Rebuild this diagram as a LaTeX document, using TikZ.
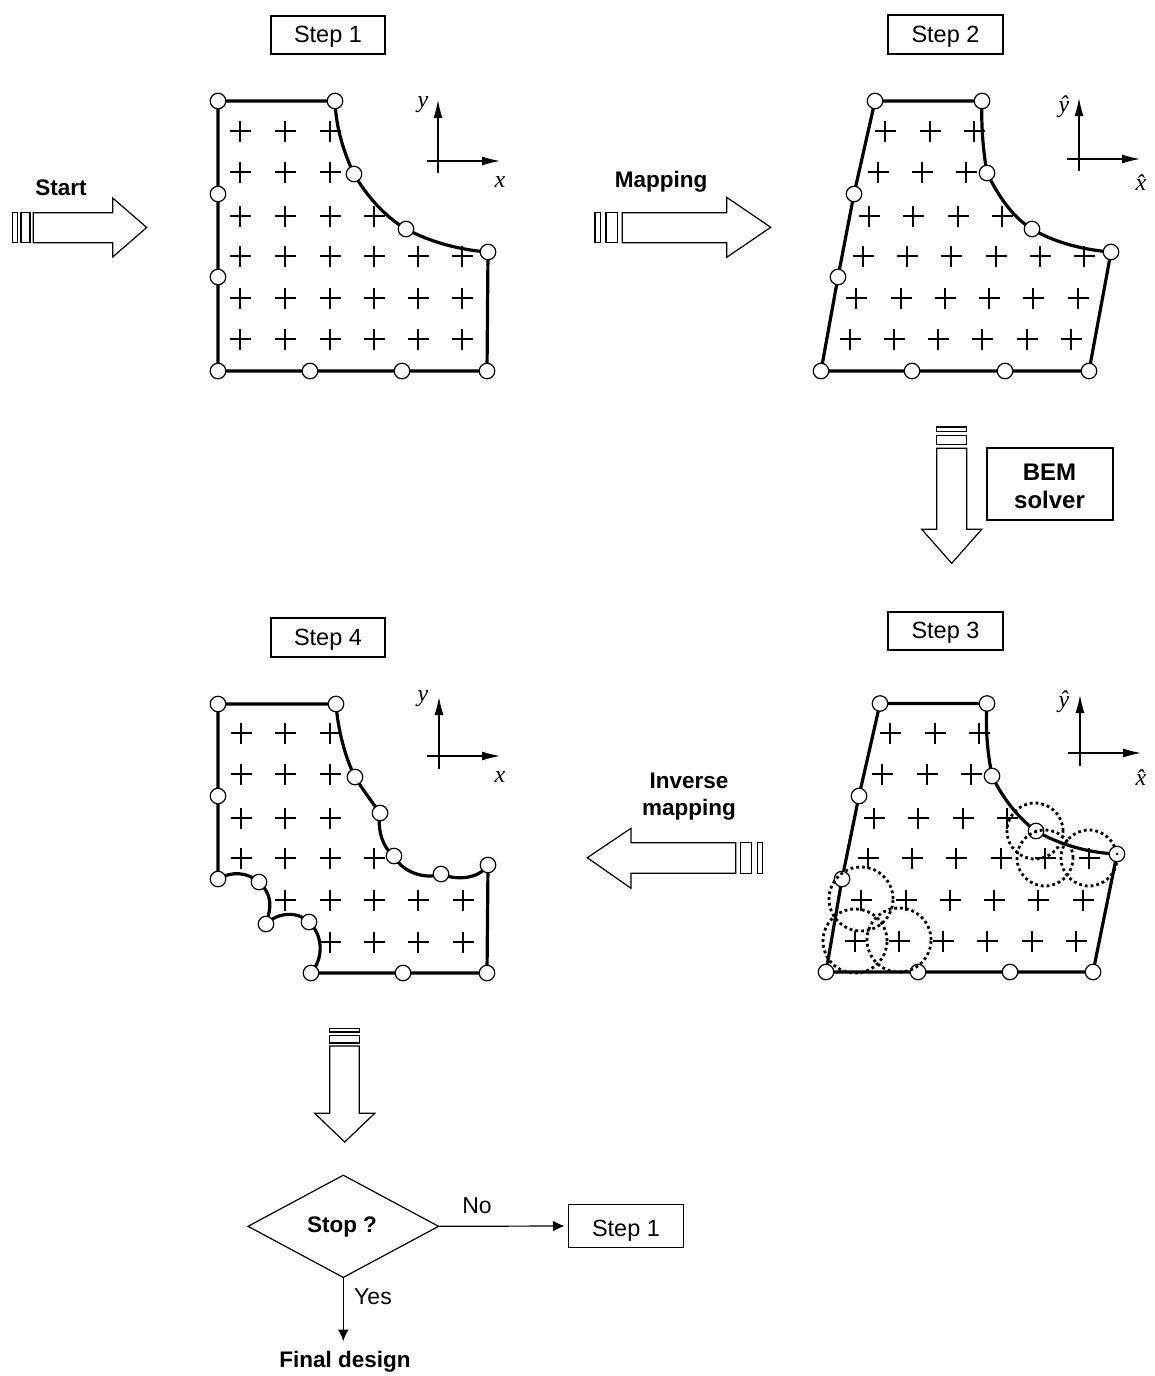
\documentclass[tikz,border=0pt]{standalone}
\usepackage{fontspec}
\setmainfont{Liberation Sans}
\newfontfamily\serifit[ItalicFont=Liberation Serif Italic]{Liberation Serif}
\usetikzlibrary{shapes.geometric,arrows.meta}
\tikzset{
  thinln/.style={line width=1.2pt,black},
  bound/.style={line width=3.2pt,black},
  vtx/.style={circle,draw=black,fill=white,line width=1.2pt,minimum size=15.5pt,inner sep=0pt},
  labelbox/.style={draw=black,line width=1.2pt,fill=white,font=\fontsize{23.5}{27}\selectfont,inner sep=0pt,align=center,text height=18pt,text depth=3pt},
  solverbox/.style={draw=black,line width=1.2pt,fill=white,inner sep=0pt},
  bold/.style={font=\fontsize{22.5}{27}\selectfont\bfseries,align=center,inner sep=0pt},
  plain/.style={font=\fontsize{23}{27}\selectfont,inner sep=0pt},
  axlab/.style={font=\fontsize{24}{26}\selectfont\serifit\itshape,inner sep=0pt},
  fat/.style={draw=black,line width=1.2pt,fill=white,line join=miter},
  axarrow/.style={thinln,-{Latex[length=18pt,width=9pt]}},
  flowarrow/.style={thinln,-{Latex[length=11.5pt,width=11pt]}},
  dotc/.style={draw=black,line width=2.8pt,dash pattern=on 2.8pt off 3pt},
  gridplus/.pic={\draw[thinln] (-10.5,0)--(10.5,0) (0,-10.5)--(0,10.5);}
}
\newcommand{\pluses}[2]{\foreach \px in {#2} \path (\px,#1) pic {gridplus};}
\begin{document}
\begin{tikzpicture}[x=1pt,y=-1pt]
\useasboundingbox (0,0) rectangle (1154,1376);

% ---------- Step 1 ----------
\node[labelbox,minimum width=114pt,minimum height=38pt] (s1) at (328,35) {Step 1};
\pluses{131}{240,285,330}
\pluses{172}{240,285,330}
\pluses{216}{240,285,330,374}
\pluses{256}{240,285,330,374,418,462}
\pluses{298}{240,285,330,374,418,462}
\pluses{339}{240,285,330,374,418,462}
\coordinate (a1t) at (438,100); \coordinate (a1b) at (438,173);
\coordinate (a1l) at (427,161); \coordinate (a1r) at (500,161);
\draw[axarrow] (a1b) -- (a1t);
\draw[axarrow] (a1l) -- (a1r);
\node[axlab] (l1y) at (423,105) {y};
\node[axlab] (l1x) at (500,182) {x};
\foreach \n/\x/\y in {A/218/101,B/335/101,C/354/174,D/406/229,E/488/252,F/487/371,G/402/371,H/310/371,I/218/371,J/218/277,K/218/194}
  \coordinate (p1\n) at (\x,\y);
\draw[bound] (p1A) -- (p1B) .. controls (336,130) and (345,155) .. (p1C)
  .. controls (366,195) and (385,217) .. (p1D)
  .. controls (430,242) and (460,250) .. (p1E)
  -- (p1F) -- (p1G) -- (p1H) -- (p1I) -- (p1J) -- (p1K) -- (p1A);
\foreach \n in {A,B,C,D,E,F,G,H,I,J,K} \node[vtx] (v1\n) at (p1\n) {};

% ---------- Step 2 ----------
\node[labelbox,minimum width=115pt,minimum height=39pt] (s2) at (945.5,34.5) {Step 2};
\pluses{131}{885,930,974}
\pluses{172}{878,922,966}
\pluses{216}{869,913,958,1002}
\pluses{256}{863,907,951,996,1040,1084}
\pluses{298}{856,901,945,989,1033,1078}
\pluses{339}{850,894,938,982,1027,1071}
\coordinate (a2t) at (1079,98); \coordinate (a2b) at (1079,171);
\coordinate (a2l) at (1067,159); \coordinate (a2r) at (1140,159);
\draw[axarrow] (a2b) -- (a2t);
\draw[axarrow] (a2l) -- (a2r);
\node[axlab] (l2y) at (1064,107) {\^y};
\node[axlab] (l2x) at (1141,183) {\^x};
\foreach \n/\x/\y in {A/875/101,B/982/101,C/987/173,D/1032/229,E/1111/252,F/1089/371,G/1005/371,H/912/371,I/821/371,J/838/277,K/854/194}
  \coordinate (p2\n) at (\x,\y);
\draw[bound] (p2A) -- (p2B) .. controls (981,125) and (983,150) .. (p2C)
  .. controls (998,195) and (1012,217) .. (p2D)
  .. controls (1055,243) and (1085,250) .. (p2E)
  -- (p2F) -- (p2G) -- (p2H) -- (p2I) -- (p2J) -- (p2K) -- (p2A);
\foreach \n in {A,B,C,D,E,F,G,H,I,J,K} \node[vtx] (v2\n) at (p2\n) {};

% ---------- Step 3 ----------
\node[labelbox,minimum width=115pt,minimum height=38pt] (s3) at (945.5,631) {Step 3};
\pluses{733}{890,935,979}
\pluses{774}{882,927,971}
\pluses{818}{874,918,963,1007}
\pluses{858}{868,912,956,1001,1045,1089}
\pluses{900}{861,906,950,994,1038,1083}
\pluses{941}{855,899,943,987,1032,1076}
\coordinate (a3t) at (1080,695); \coordinate (a3b) at (1080,766);
\coordinate (a3l) at (1068,753); \coordinate (a3r) at (1141,753);
\draw[axarrow] (a3b) -- (a3t);
\draw[axarrow] (a3l) -- (a3r);
\node[axlab] (l3y) at (1064,702) {\^y};
\node[axlab] (l3x) at (1141,778) {\^x};
\foreach \n/\x/\y in {A/880/703.5,B/987/703.5,C/992/776,D/1036/831,E/1117/854,F/1093/972,G/1010/972,H/918/972,I/826/972,J/842/879,K/859/796}
  \coordinate (p3\n) at (\x,\y);
\draw[bound] (p3A) -- (p3B) .. controls (985,730) and (988,755) .. (p3C)
  .. controls (1002,797) and (1018,818) .. (p3D)
  .. controls (1060,845) and (1090,853) .. (p3E)
  -- (p3F) -- (p3G) -- (p3H) -- (p3I) -- (p3J) -- (p3K) -- (p3A);
\draw[dotc] (1089,858) circle (28pt);
\foreach \n in {A,B,C,D,E,F,G,H,I,J,K} \node[vtx] (v3\n) at (p3\n) {};
\fill (p3D) circle (1.3pt);
\fill (p3E) circle (1.3pt);
\foreach \x/\y/\r in {861/899/32,855/941/32,899/940/32,1035/831/28,1045/858/28}
  \draw[dotc] (\x,\y) circle (\r pt);

% ---------- Step 4 ----------
\node[labelbox,minimum width=114pt,minimum height=39pt] (s4) at (328,637.5) {Step 4};
\pluses{733}{241,285,330}
\pluses{774}{241,285,330}
\pluses{818}{241,285,330}
\pluses{858}{241,285,330,374}
\pluses{900}{285,330,374,418,463}
\pluses{942}{330,374,418,463}
\coordinate (a4t) at (439,697); \coordinate (a4b) at (439,769);
\coordinate (a4l) at (427,756); \coordinate (a4r) at (500,756);
\draw[axarrow] (a4b) -- (a4t);
\draw[axarrow] (a4l) -- (a4r);
\node[axlab] (l4y) at (423,699) {y};
\node[axlab] (l4x) at (500,777) {x};
\foreach \n/\x/\y in {A/218/704,B/336/704,C/355/777,D/380/813,E/394/856,F/441/874,G/488/865,H/487/973,I/403/973,J/311/973,K/309/922,L/266/924,M/259/882,N/218/879,O/218/796}
  \coordinate (p4\n) at (\x,\y);
\draw[bound] (p4A) -- (p4B) .. controls (338,730) and (345,757) .. (p4C)
  .. controls (363,790) and (372,802) .. (p4D)
  .. controls (377,830) and (383,848) .. (p4E)
  .. controls (402,872) and (425,880) .. (p4F)
  .. controls (455,880) and (478,880) .. (p4G)
  -- (p4H) -- (p4I) -- (p4J)
  .. controls (324,958) and (323,935) .. (p4K)
  .. controls (298,911) and (278,912) .. (p4L)
  .. controls (272,905) and (272,895) .. (p4M)
  .. controls (247,872) and (232,871) .. (p4N)
  -- (p4O) -- (p4A);
\foreach \n in {A,B,C,D,E,F,G,H,I,J,K,L,M,N,O} \node[vtx] (v4\n) at (p4\n) {};

% ---------- Block arrows ----------
\node[bold] (tStart) at (61,188) {Start};
\draw[fat] (12.7,212.7) rectangle (17.3,242.7);
\draw[fat] (21,212.7) rectangle (30,242.7);
\draw[fat] (33.3,212.7) -- (112.7,212.7) -- (112.7,198) -- (146.7,227.5) -- (112.7,257) -- (112.7,242.7) -- (33.3,242.7) -- cycle;

\node[bold] (tMap) at (661,182) {Mapping};
\draw[fat] (595,212.7) rectangle (600.7,242.7);
\draw[fat] (606,212.7) rectangle (617.3,242.7);
\draw[fat] (622.3,212.7) -- (726.7,212.7) -- (726.7,197.3) -- (770.7,227.3) -- (726.7,257.3) -- (726.7,242.7) -- (622.3,242.7) -- cycle;

\node[bold] (tInv) at (689,796.5) {Inverse\\mapping};
\draw[fat] (757.3,842.7) rectangle (762.7,873.3);
\draw[fat] (740.7,842.7) rectangle (751.7,873.3);
\draw[fat] (735.7,842.7) -- (631,842.7) -- (631,828.3) -- (587.3,857.7) -- (631,888.3) -- (631,873.3) -- (735.7,873.3) -- cycle;

\draw[fat] (936.7,427) rectangle (966.7,431.7);
\draw[fat] (936.7,435.7) rectangle (966.7,444.3);
\draw[fat] (936.7,448.3) -- (966.7,448.3) -- (966.7,529.3) -- (981.7,529.3) -- (951.7,563.3) -- (921.7,529.3) -- (936.7,529.3) -- cycle;
\node[solverbox,minimum width=126pt,minimum height=72pt] (bem) at (1050,484) {};
\node[font=\fontsize{24}{28}\selectfont\bfseries,align=center,inner sep=0pt] (bemtext) at (1049.5,486) {BEM\\solver};

\draw[fat] (329.7,1028.3) rectangle (359.3,1032);
\draw[fat] (329.7,1035.7) rectangle (359.3,1043);
\draw[fat] (329.7,1046) -- (359.3,1046) -- (359.3,1113.3) -- (374.7,1113.3) -- (344.7,1142) -- (314.7,1113.3) -- (329.7,1113.3) -- cycle;

% ---------- Decision ----------
\node[diamond,draw=black,line width=1.2pt,minimum width=191pt,minimum height=102.7pt,inner sep=0pt,aspect=1.86] (stop) at (343.3,1226.3) {};
\node[bold] (tStop) at (342,1226.5) {Stop ?};
\node[labelbox,minimum width=114.3pt,minimum height=43.7pt,text height=20pt,text depth=0pt] (s1b) at (626,1226) {Step 1};
\node[bold] (fin) at (345,1362) {Final design};
\coordinate (finend) at (343.3,1341);
\coordinate (s1bend) at (564.5,1226);
\draw[flowarrow] (stop.east) -- (s1bend);
\draw[flowarrow] (stop.south) -- (finend);
\node[plain] (tNo) at (477,1206) {No};
\node[plain] (tYes) at (373,1296.5) {Yes};
\end{tikzpicture}
\end{document}
